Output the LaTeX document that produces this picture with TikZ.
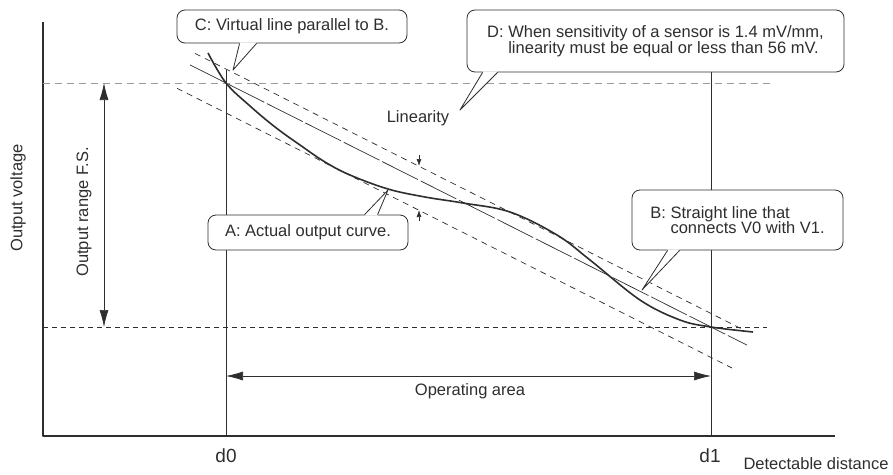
\documentclass[tikz,border=0pt]{standalone}
\usepackage{fontspec}
\setmainfont{Liberation Sans}
\usepackage{tikz}
\usetikzlibrary{arrows.meta,calc}

\definecolor{ink}{HTML}{2E2E2E}
\definecolor{guide}{HTML}{9A9A9A}

\begin{document}
\begin{tikzpicture}[x=1pt, y=-1pt, line join=round,
  every node/.style={text=ink, font=\fontsize{16.5}{15.5}\selectfont},
  axis/.style={ink, line width=1.3pt},
  vline/.style={ink, line width=0.8pt},
  thinline/.style={ink, line width=0.7pt},
  parline/.style={ink, line width=0.7pt, dash pattern=on 6pt off 5pt},
  callbox/.style={draw=ink, fill=white, line width=0.8pt, rounded corners=8pt, inner sep=0pt},
  tipline/.style={draw=ink, line width=0.8pt},
  dlabel/.style={font=\fontsize{19}{20}\selectfont},
  >={Latex[length=17pt,width=9pt]}]

\useasboundingbox (0,0) rectangle (893,474);

\coordinate (O) at (43,436) ;
\coordinate (Ytop) at (43,22) ;
\coordinate (Xend) at (835,436) ;
\coordinate (V0) at (226,83) ;
\coordinate (V1) at (711,327) ;

% axes and the d0 / d1 verticals
\draw[axis] (Ytop) -- (O) -- (Xend);
\draw[vline] (226,70) -- (226,436);
\draw[vline] (711,72) -- (711,436);

% V0 and V1 levels
\draw[guide, line width=0.9pt, dash pattern=on 7pt off 5pt] (43,83) -- (770,83);
\draw[ink, line width=0.9pt, dash pattern=on 5pt off 4pt] (43,327) -- (767,327);

% straight line B and the two parallels C
\draw[ink, line width=0.7pt, dash pattern=on 40pt off 3pt] ($(V0)!-0.074!(V1)$) -- ($(V0)!1.074!(V1)$);
\draw[parline] (195,53.4) -- (745,330.6);
\draw[parline] (177,88.3) -- (732,368);

% actual output curve A
\draw[ink, line width=1.6pt] plot[smooth, tension=0.6] coordinates {
  (208,53) (226,83) (250,106) (275,127) (300,145) (325,162) (350,175)
  (388,189) (425,197) (463,203) (510,212) (557,235) (590,260) (640,300)
  (680,320) (711,327) (753,332)};

% linearity marks
\draw[thinline, -{Latex[length=7pt,width=5pt]}] (419,155) -- (419,166);
\draw[thinline, -{Latex[length=7pt,width=5pt]}] (419,221) -- (419,210);

% ranges
\draw[thinline, <->] (104,83) -- (104,327);
\draw[thinline, <->] (226,376) -- (711,376);

\node (ylabel) at (18,198) [rotate=90] {Output voltage};
\node (rangelbl) at (84,212) [rotate=90] {Output range F.S.};
\node[dlabel] (d0) at (226,456) {d0};
\node[dlabel] (d1) at (710,456) {d1};
\node (xlabel) at (816,464) {Detectable distance};
\node (area) at (470,391) {Operating area};
\node (lin) at (418,118) {Linearity};

% callouts
\node[callbox, minimum width=230pt, minimum height=33pt] (callC) at (292,26.5) {C: Virtual line parallel to B.};
\node[callbox, minimum width=200pt, minimum height=35pt] (callA) at (308,232.5) {A: Actual output curve.};
\node[callbox, minimum width=211pt, minimum height=60pt, align=left] (callB) at (737.5,220)
  {B: Straight line that\\\phantom{B:~}connects V0 with V1.};
\node[callbox, minimum width=377pt, minimum height=62pt, align=left, font=\fontsize{16.5}{14}\selectfont] (callD) at (655.5,41)
  {D: When sensitivity of a sensor is 1.4 mV/mm,\\\phantom{D:~}linearity must be equal or less than 56 mV.};

\coordinate (ptC) at (233,70) ;
\coordinate (ptA) at (388,190) ;
\coordinate (ptB) at (642,290) ;
\coordinate (ptD) at (460,110) ;

\fill[white] ($(callC.south west)+(63,-1)$) -- (ptC) -- ($(callC.south west)+(80,-1)$) -- cycle;
\draw[tipline] ($(callC.south west)+(63,0)$) -- (ptC) -- ($(callC.south west)+(80,0)$);
\fill[white] ($(callA.north west)+(157,1)$) -- (ptA) -- ($(callA.north west)+(170,1)$) -- cycle;
\draw[tipline] ($(callA.north west)+(157,0)$) -- (ptA) -- ($(callA.north west)+(170,0)$);
\fill[white] ($(callB.south west)+(36,-1)$) -- (ptB) -- ($(callB.south west)+(48,-1)$) -- cycle;
\draw[tipline] ($(callB.south west)+(36,0)$) -- (ptB) -- ($(callB.south west)+(48,0)$);
\fill[white] ($(callD.south west)+(16,-1)$) -- (ptD) -- ($(callD.south west)+(31,-1)$) -- cycle;
\draw[tipline] ($(callD.south west)+(16,0)$) -- (ptD) -- ($(callD.south west)+(31,0)$);
\end{tikzpicture}
\end{document}
